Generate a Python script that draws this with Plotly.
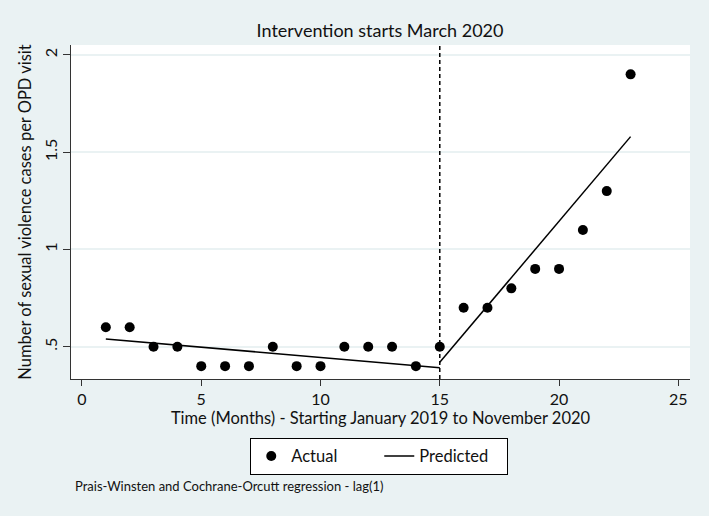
import plotly.graph_objects as go

# Data
months = list(range(1, 24))
actual = [0.6, 0.6, 0.5, 0.5, 0.4, 0.4, 0.4, 0.5, 0.4, 0.4, 0.5, 0.5,
          0.5, 0.4, 0.5, 0.7, 0.7, 0.8, 0.9, 0.9, 1.1, 1.3, 1.9]
pre_x = [1, 15]
pre_pred = [0.540, 0.392]
post_x = [15, 23]
post_pred = [0.420, 1.580]
x_ticks = [0, 5, 10, 15, 20, 25]
y_ticks = [0.5, 1, 1.5, 2]
y_ticklabels = [".5", "1", "1.5", "2"]
intervention_x = 15

BG = "#EAF2F3"
FONT = "Lato"
TXT = "#111"

fig = go.Figure()
fig.add_trace(go.Scatter(
    x=months, y=actual, mode="markers", name="Actual",
    marker=dict(color="black", size=10, symbol="circle"),
))
fig.add_trace(go.Scatter(
    x=pre_x + [None] + post_x, y=pre_pred + [None] + post_pred,
    mode="lines", name="Predicted",
    line=dict(color="black", width=1.5), connectgaps=False,
))

fig.add_shape(type="line", xref="x", yref="paper", x0=intervention_x, x1=intervention_x,
              y0=0, y1=1, line=dict(color="black", width=1.5, dash="4px,3px"), layer="above")

fig.add_annotation(text="Prais-Winsten and Cochrane-Orcutt regression - lag(1)",
                   xref="paper", yref="paper", x=0.004, y=-0.32, xanchor="left", yanchor="middle",
                   showarrow=False, font=dict(family=FONT, size=13, color=TXT))

fig.update_layout(
    width=709, height=516,
    paper_bgcolor=BG, plot_bgcolor="white",
    margin=dict(l=71, r=19, t=45, b=137, autoexpand=False),
    font=dict(family=FONT, color=TXT),
    title=dict(text="Intervention starts March 2020", x=0.536, xanchor="center",
               y=1 - 30.5 / 516, yanchor="middle", font=dict(family=FONT, size=18, color=TXT)),
    showlegend=True,
    legend=dict(orientation="h", x=0.498, xanchor="center", y=-0.176, yanchor="top",
                bgcolor="white", bordercolor="black", borderwidth=1,
                font=dict(family=FONT, size=16.5, color=TXT), entrywidth=83),
    xaxis=dict(range=[-0.46, 25.49], tickvals=x_ticks, showgrid=False, zeroline=False,
               showline=True, linecolor="#333", linewidth=1, ticks="outside", ticklen=6,
               tickcolor="#333", tickfont=dict(size=16, family=FONT), automargin=False,
               title=dict(text="Time (Months) - Starting January 2019 to November 2020",
                          font=dict(size=16.5, family=FONT), standoff=0)),
    yaxis=dict(range=[0.334, 2.051], tickvals=y_ticks, ticktext=y_ticklabels, tickangle=-90,
               showgrid=True, gridcolor=BG, gridwidth=1.5, zeroline=False,
               showline=True, linecolor="#333", linewidth=1, ticks="outside", ticklen=7,
               tickcolor="#333", tickfont=dict(size=16, family=FONT), automargin=False,
               title=dict(text="Number of sexual violence cases per OPD visit",
                          font=dict(size=16.5, family=FONT), standoff=4)),
)

fig.write_html("out.html", config={"displayModeBar": False},
               post_script="document.body.style.margin='0';document.body.style.background='" + BG + "';")
